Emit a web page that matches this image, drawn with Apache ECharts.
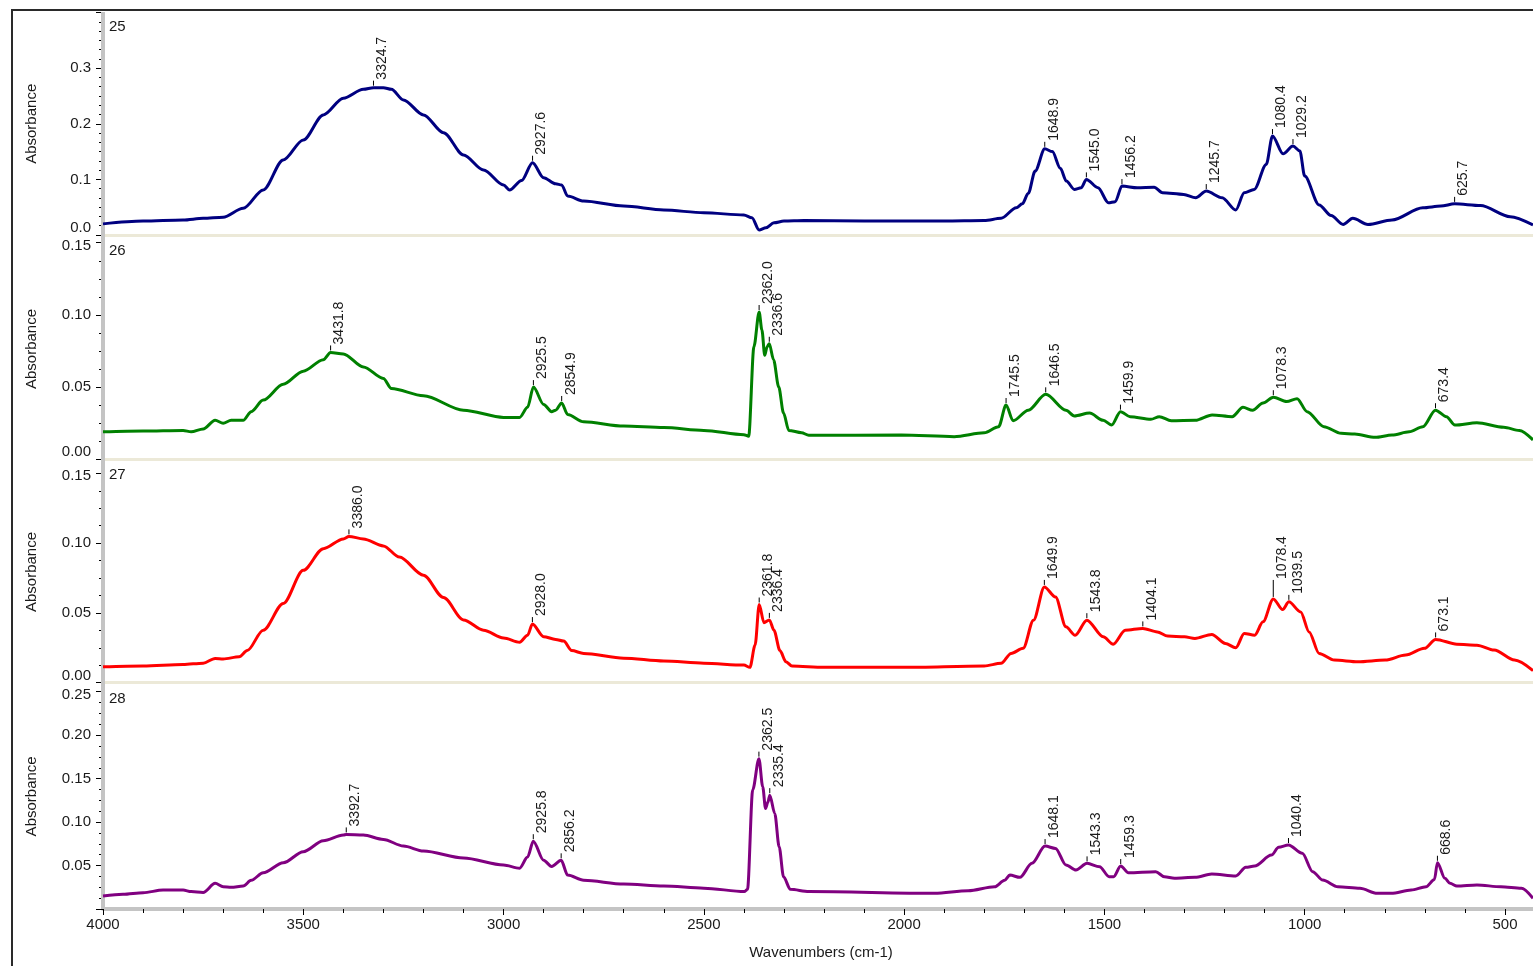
<!DOCTYPE html>
<html>
<head>
<meta charset="utf-8">
<title>IR spectra 25-28</title>
<script src="https://cdn.jsdelivr.net/npm/echarts@6/dist/echarts.min.js"></script>
<style>
  html, body { margin: 0; padding: 0; background: #ffffff; }
  #chart { width: 1533px; height: 966px; }
</style>
</head>
<body>
<div id="chart"></div>
<script>
// ---- Spectrum 25 ----
const wn25 = [4000, 3900, 3800, 3750, 3700, 3650, 3600, 3550, 3500, 3450, 3400, 3350, 3324.7, 3300, 3280, 3250, 3200, 3150, 3100, 3050,
  3000, 2985, 2955, 2927.6, 2900, 2870, 2855, 2840, 2800, 2700, 2600, 2500, 2400, 2380, 2362, 2345, 2325, 2300, 2250, 2100,
  2000, 1900, 1800, 1758, 1720, 1705, 1690, 1673, 1648.9, 1630, 1610, 1595, 1575, 1558, 1545.0, 1516, 1490, 1473, 1456.2, 1418,
  1376, 1355, 1302, 1272, 1245.7, 1206, 1172, 1151, 1126, 1096, 1080.4, 1054, 1029.2, 1012, 1000, 964, 934, 904, 880, 842,
  782, 705, 660, 625.7, 561, 487, 430];
const abs25 = [0.020, 0.025, 0.027, 0.030, 0.032, 0.048, 0.081, 0.135, 0.171, 0.216, 0.246, 0.262, 0.265, 0.265, 0.262, 0.243, 0.216, 0.184, 0.144, 0.117,
  0.090, 0.081, 0.098, 0.130, 0.103, 0.092, 0.090, 0.070, 0.061, 0.052, 0.045, 0.040, 0.036, 0.031, 0.009, 0.013, 0.022, 0.025, 0.026, 0.025,
  0.025, 0.025, 0.026, 0.030, 0.049, 0.056, 0.075, 0.115, 0.155, 0.150, 0.120, 0.097, 0.082, 0.085, 0.100, 0.085, 0.058, 0.060, 0.088, 0.085,
  0.086, 0.076, 0.073, 0.067, 0.079, 0.067, 0.045, 0.076, 0.082, 0.127, 0.178, 0.146, 0.160, 0.151, 0.106, 0.054, 0.035, 0.019, 0.030, 0.019,
  0.027, 0.049, 0.052, 0.056, 0.053, 0.033, 0.018];
const peaks25 = [3324.7, 2927.6, 1648.9, 1545.0, 1456.2, 1245.7, 1080.4, 1029.2, 625.7];

// ---- Spectrum 26 ----
const wn26 = [4000, 3900, 3800, 3780, 3750, 3720, 3700, 3680, 3650, 3630, 3600, 3550, 3500, 3450, 3431.8, 3400, 3350, 3300, 3280, 3200,
  3100, 3000, 2960, 2940, 2925.5, 2900, 2880, 2870, 2854.9, 2840, 2800, 2700, 2600, 2500, 2400, 2388, 2375, 2362.0, 2355, 2348,
  2342, 2336.6, 2326, 2313, 2301, 2288, 2256, 2238, 2007, 1875, 1800, 1764, 1745.5, 1728, 1690, 1646.5, 1596, 1575, 1537, 1503,
  1482, 1459.9, 1436, 1384, 1363, 1333, 1273, 1231, 1181, 1154, 1130, 1104, 1078.3, 1045, 1019, 994, 952, 909, 875, 824,
  782, 739, 705, 673.4, 646, 625, 570, 503, 464, 430];
const abs26 = [0.019, 0.0196, 0.020, 0.019, 0.021, 0.027, 0.025, 0.027, 0.027, 0.033, 0.041, 0.052, 0.061, 0.069, 0.074, 0.073, 0.064, 0.056, 0.049, 0.044,
  0.034, 0.029, 0.029, 0.036, 0.050, 0.038, 0.033, 0.034, 0.039, 0.031, 0.026, 0.023, 0.022, 0.020, 0.017, 0.016, 0.078, 0.102, 0.0895, 0.072,
  0.078, 0.080, 0.069, 0.050, 0.032, 0.020, 0.0184, 0.0166, 0.0168, 0.0157, 0.0184, 0.0226, 0.0376, 0.0267, 0.034, 0.045, 0.034, 0.030, 0.032, 0.027,
  0.0237, 0.033, 0.0295, 0.0277, 0.0295, 0.0267, 0.027, 0.0307, 0.0295, 0.036, 0.034, 0.039, 0.043, 0.040, 0.042, 0.033, 0.0226, 0.018, 0.0175, 0.0152,
  0.0168, 0.019, 0.0226, 0.034, 0.0295, 0.0237, 0.0253, 0.0222, 0.020, 0.0134];
const peaks26 = [3431.8, 2925.5, 2854.9, 2362.0, 2336.6, 1745.5, 1646.5, 1459.9, 1078.3, 673.4];

// ---- Spectrum 27 ----
const wn27 = [4000, 3900, 3800, 3750, 3720, 3700, 3660, 3640, 3600, 3550, 3500, 3450, 3400, 3386.0, 3350, 3300, 3260, 3200, 3150, 3100,
  3050, 3000, 2960, 2940, 2928.0, 2900, 2870, 2850, 2830, 2800, 2700, 2600, 2500, 2400, 2385, 2372, 2361.8, 2350, 2336.4, 2325,
  2310, 2295, 2280, 2200, 2000, 1800, 1758, 1733, 1703, 1677, 1649.9, 1622, 1596, 1573, 1543.8, 1503, 1478, 1448, 1404.1, 1368,
  1342, 1300, 1274, 1232, 1198, 1172, 1151, 1125, 1104, 1078.4, 1055, 1039.5, 1010, 989, 964, 926, 867, 799, 748, 701,
  673.1, 620, 570, 527, 476, 430];
const abs27 = [0.0114, 0.012, 0.013, 0.014, 0.0174, 0.017, 0.0186, 0.023, 0.0376, 0.0567, 0.0805, 0.096, 0.103, 0.1048, 0.103, 0.098, 0.090, 0.077, 0.061, 0.045,
  0.0376, 0.032, 0.029, 0.034, 0.042, 0.033, 0.031, 0.0298, 0.023, 0.021, 0.0176, 0.0155, 0.014, 0.0126, 0.011, 0.027, 0.056, 0.043, 0.045, 0.0376,
  0.023, 0.015, 0.012, 0.011, 0.011, 0.012, 0.0139, 0.021, 0.0246, 0.0448, 0.0686, 0.0614, 0.040, 0.034, 0.0448, 0.0329, 0.0276, 0.0376, 0.0389, 0.0364,
  0.0334, 0.0329, 0.0317, 0.0346, 0.0281, 0.025, 0.0353, 0.034, 0.0436, 0.060, 0.0524, 0.0579, 0.0507, 0.0364, 0.021, 0.0162, 0.015, 0.0162, 0.0198, 0.0246,
  0.031, 0.0276, 0.0269, 0.0234, 0.0162, 0.0086];
const peaks27 = [3386.0, 2928.0, 2361.8, 2336.4, 1649.9, 1543.8, 1404.1, 1078.4, 1039.5, 673.1];

// ---- Spectrum 28 ----
const wn28 = [4000, 3950, 3900, 3850, 3800, 3780, 3750, 3720, 3700, 3680, 3650, 3630, 3600, 3550, 3500, 3450, 3400, 3392.7, 3350, 3300,
  3250, 3200, 3100, 3000, 2960, 2940, 2925.8, 2900, 2880, 2856.2, 2840, 2800, 2700, 2600, 2500, 2399, 2391, 2378, 2362.5, 2353,
  2346, 2340, 2335.4, 2323, 2312, 2301, 2284, 2238, 1924, 1840, 1774, 1749, 1736, 1711, 1681, 1648.1, 1622, 1596, 1571, 1543.3,
  1512, 1488, 1477, 1459.3, 1440, 1372, 1350, 1325, 1274, 1232, 1172, 1147, 1125, 1083, 1065, 1040.4, 1006, 980, 955, 917,
  862, 819, 784, 734, 697, 676, 668.6, 650, 637, 620, 570, 510, 459, 430];
const abs28 = [0.0149, 0.0169, 0.0188, 0.0218, 0.0218, 0.020, 0.019, 0.0295, 0.0257, 0.025, 0.0264, 0.033, 0.0418, 0.0532, 0.0659, 0.0785, 0.085, 0.0858, 0.085, 0.080,
  0.0724, 0.0667, 0.0586, 0.0506, 0.047, 0.0598, 0.078, 0.056, 0.049, 0.056, 0.039, 0.033, 0.0287, 0.0264, 0.024, 0.020, 0.0226, 0.137, 0.173, 0.1406,
  0.1157, 0.123, 0.131, 0.110, 0.0716, 0.037, 0.0226, 0.020, 0.018, 0.021, 0.0256, 0.033, 0.039, 0.0364, 0.0525, 0.0724, 0.0697, 0.0506, 0.0448, 0.0525,
  0.0486, 0.0371, 0.0371, 0.0494, 0.0417, 0.0429, 0.0371, 0.0353, 0.0364, 0.0402, 0.038, 0.048, 0.0494, 0.062, 0.0709, 0.0736, 0.064, 0.0429, 0.0333, 0.0256,
  0.0238, 0.018, 0.018, 0.0218, 0.0256, 0.034, 0.0532, 0.0353, 0.0295, 0.0264, 0.0276, 0.0256, 0.0238, 0.0123];
const peaks28 = [3392.7, 2925.8, 2856.2, 2362.5, 2335.4, 1648.1, 1543.3, 1459.3, 1040.4, 668.6];

// Wavenumber axis: labelled ticks, and the visible window
const xTickLabels = [4000, 3500, 3000, 2500, 2000, 1500, 1000, 500];
const X_MAX = 4000, X_MIN = 430;

// small ticks every 100 cm-1 between the labelled ones
const xMinorTicks = [];
for (let v = 4000; v >= 500; v -= 100) if (v % 500 !== 0) xMinorTicks.push(v);

// ---- Layout & styling ----
const FONT = "'Liberation Sans', Arial, sans-serif";
const TEXT = '#1a1a1a';
const AXIS_GRAY = '#c4c4c4';
const SEPARATOR = '#ece9d8';
const PLOT_LEFT = 103;

// boxTop: top of each stacked panel; top/bottom: pixel rows of the axis max and zero;
// nameShift: nudges the axis title upward so it sits centred on the whole panel
const panels = [
  { tag: '25', wn: wn25, ab: abs25, pk: peaks25, color: '#000080', boxTop: 12,  top: 12.6,  bottom: 235,   max: 0.40, step: 0.1,  minorDiv: 6, dec: 1, showTop: false, hideZero: false, nameShift: 0,  lift: {} },
  { tag: '26', wn: wn26, ab: abs26, pk: peaks26, color: '#008000', boxTop: 236, top: 242.7, bottom: 459.3, max: 0.15, step: 0.05, minorDiv: 4, dec: 2, showTop: true,  hideZero: false, nameShift: 4,  lift: {} },
  { tag: '27', wn: wn27, ab: abs27, pk: peaks27, color: '#ff0000', boxTop: 460, top: 473.3, bottom: 682.7, max: 0.15, step: 0.05, minorDiv: 4, dec: 2, showTop: true,  hideZero: false, nameShift: 12, lift: { '1078.4': 12 } },
  { tag: '28', wn: wn28, ab: abs28, pk: peaks28, color: '#800080', boxTop: 684, top: 691.7, bottom: 909,   max: 0.25, step: 0.05, minorDiv: 4, dec: 2, showTop: true,  hideZero: true,  nameShift: 8,  lift: {} }
];

// Absorbance of a spectrum at a given wavenumber (linear between stored points)
function valueAt(wn, ab, w) {
  for (let i = 0; i < wn.length - 1; i++) {
    if (w <= wn[i] && w >= wn[i + 1]) {
      const t = (wn[i] - w) / (wn[i] - wn[i + 1]);
      return ab[i] + t * (ab[i + 1] - ab[i]);
    }
  }
  return null;
}

const grids = [], xAxes = [], yAxes = [], series = [], graphics = [];
const last = panels.length - 1;

panels.forEach((p, i) => {
  grids.push({ left: PLOT_LEFT, right: 0, top: p.top, height: p.bottom - p.top, containLabel: false, outerBoundsMode: 'none' });

  const isBottom = i === last;
  xAxes.push({
    gridIndex: i, type: 'value', position: 'bottom', min: X_MIN, max: X_MAX, inverse: true,
    axisLine: { show: true, onZero: false, lineStyle: { color: isBottom ? AXIS_GRAY : SEPARATOR, width: isBottom ? 4 : 3 } },
    axisTick: { show: isBottom, customValues: xMinorTicks, length: 4, lineStyle: { color: '#000', width: 1 } },
    axisLabel: {
      show: isBottom, customValues: xTickLabels, margin: 8, color: TEXT, fontFamily: FONT, fontSize: 15,
      formatter: v => String(v)
    },
    splitLine: { show: false }
  });

  yAxes.push({
    gridIndex: i, type: 'value', position: 'left', min: 0, max: p.max, interval: p.step,
    name: 'Absorbance', nameLocation: 'middle', nameGap: 64,
    nameTextStyle: { color: TEXT, fontFamily: FONT, fontSize: 15, padding: [0, 0, 0, p.nameShift] },
    axisLine: { show: false, onZero: false },
    axisTick: { show: true, length: 7, lineStyle: { color: '#000', width: 1 } },
    minorTick: { show: true, splitNumber: p.minorDiv, length: 4, lineStyle: { color: '#000', width: 1 } },
    axisLabel: {
      show: true, margin: 12, color: TEXT, fontFamily: FONT, fontSize: 15,
      showMaxLabel: p.showTop, showMinLabel: !p.hideZero,
      formatter: v => {
        const s = v.toFixed(p.dec);
        if (v === 0) return '{lo|' + s + '}';
        if (Math.abs(v - p.max) < 1e-9) return '{hi|' + s + '}';
        return s;
      },
      rich: {
        lo: { padding: [0, 0, 14, 0], color: TEXT, fontFamily: FONT, fontSize: 15 },
        hi: { padding: [6, 0, 0, 0], color: TEXT, fontFamily: FONT, fontSize: 15 }
      }
    },
    splitLine: { show: false }
  });

  series.push({
    name: p.tag, type: 'line', xAxisIndex: i, yAxisIndex: i,
    data: p.wn.map((w, k) => [w, p.ab[k]]),
    showSymbol: false, smooth: 0.3, smoothMonotone: 'x',
    lineStyle: { color: p.color, width: 3 },
    itemStyle: { color: p.color },
    animation: false, z: 3
  });

  // peak markers: short tick above the band plus its rotated wavenumber
  series.push({
    name: p.tag + ' peaks', type: 'custom', xAxisIndex: i, yAxisIndex: i,
    data: p.pk.map(w => [w, valueAt(p.wn, p.ab, w)]),
    encode: { x: 0, y: 1 },
    animation: false, z: 5, silent: true,
    renderItem: (params, api) => {
      const w = api.value(0);
      const pt = api.coord([w, api.value(1)]);
      const lift = p.lift[w.toFixed(1)] || 0;
      return {
        type: 'group',
        children: [
          { type: 'line', shape: { x1: pt[0], y1: pt[1] - 2, x2: pt[0], y2: pt[1] - 7 - lift },
            style: { stroke: '#000', lineWidth: 1 } },
          { type: 'text', x: pt[0] + 2, y: pt[1] - 8 - lift, rotation: Math.PI / 2,
            style: { text: w.toFixed(1), fill: TEXT, font: "14px 'Liberation Sans', Arial, sans-serif",
                     align: 'left', verticalAlign: 'top' } }
        ]
      };
    }
  });

  graphics.push({
    type: 'text', left: PLOT_LEFT + 6, top: p.boxTop + 7, silent: true,
    style: { text: p.tag, fill: TEXT, font: "15px 'Liberation Sans', Arial, sans-serif" }
  });
});

// longer ticks at the labelled wavenumbers on the bottom axis
xAxes.push({
  gridIndex: last, type: 'value', position: 'bottom', min: X_MIN, max: X_MAX, inverse: true,
  axisLine: { show: false, onZero: false },
  axisTick: { show: true, customValues: xTickLabels, length: 6, lineStyle: { color: '#000', width: 1 } },
  axisLabel: { show: false },
  splitLine: { show: false }
});

// continuous absorbance axis bar down the left of all panels
graphics.push({
  type: 'rect', silent: true, z: 1,
  shape: { x: PLOT_LEFT - 2, y: panels[0].boxTop, width: 4, height: panels[last].bottom - panels[0].boxTop },
  style: { fill: AXIS_GRAY }
});
// window frame
graphics.push({
  type: 'rect', silent: true, z: -10,
  shape: { x: 12, y: 10, width: 1560, height: 1000 },
  style: { fill: 'transparent', stroke: '#2a2a2a', lineWidth: 2 }
});
// wavenumber axis title
graphics.push({
  type: 'text', silent: true,
  x: 821, y: 953,
  style: { text: 'Wavenumbers (cm-1)', fill: TEXT, font: "15px 'Liberation Sans', Arial, sans-serif",
           align: 'center', verticalAlign: 'middle' }
});

const chart = echarts.init(document.getElementById('chart'), null, { renderer: 'canvas' });
chart.setOption({
  backgroundColor: '#ffffff',
  animation: false,
  grid: grids,
  xAxis: xAxes,
  yAxis: yAxes,
  series: series,
  graphic: graphics
});
</script>
</body>
</html>
